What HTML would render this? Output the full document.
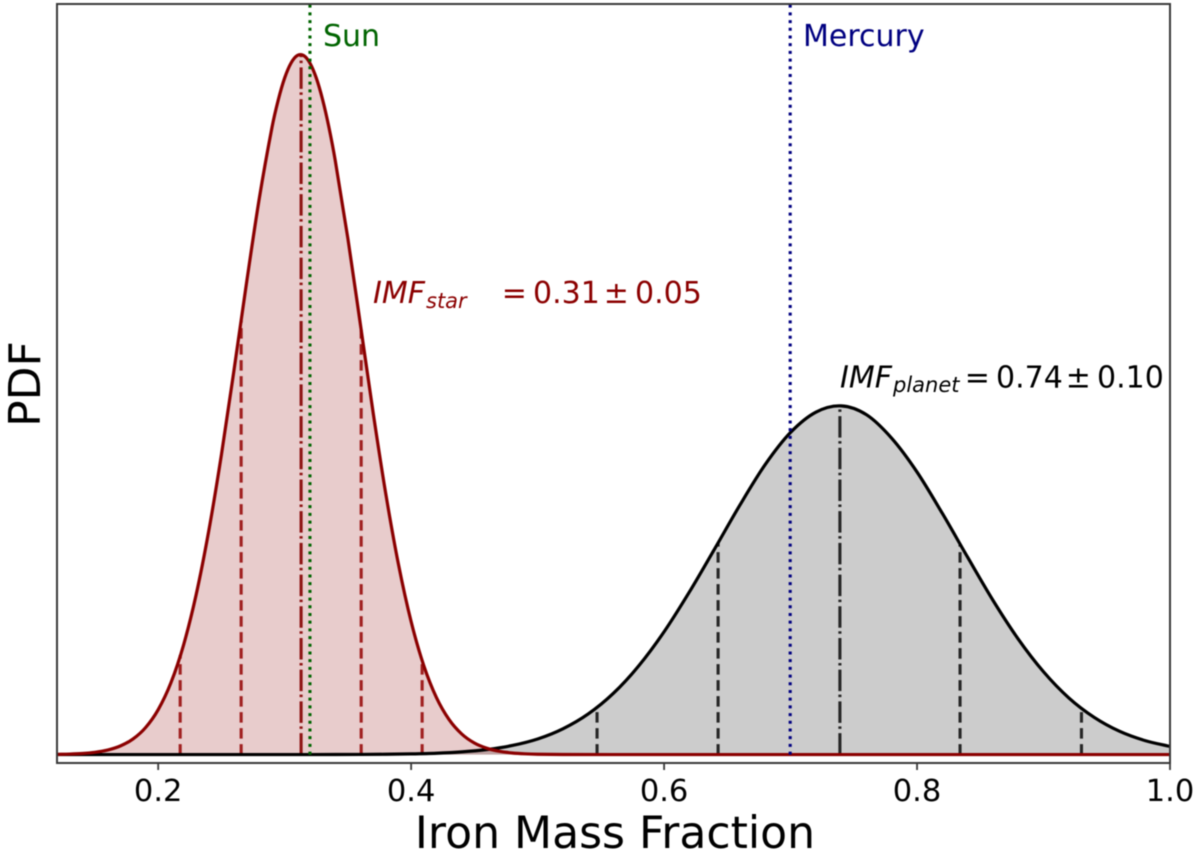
<!DOCTYPE html>
<html>
<head>
<meta charset="utf-8">
<title>Iron Mass Fraction PDF</title>
<style>
html,body{margin:0;padding:0;background:#fff;width:1200px;height:857px;overflow:hidden}
svg{display:block;font-family:"DejaVu Sans","Liberation Sans",sans-serif;filter:blur(0.4px)}
</style>
</head>
<body>
<svg id="chart" xmlns="http://www.w3.org/2000/svg" width="1200" height="857" viewBox="0 0 1200 857"></svg>
<script>
var starX = [0.12,0.13,0.14,0.15,0.16,0.17,0.18,0.19,0.20,0.21,0.22,0.23,0.24,0.25,0.26,0.27,0.28,0.29,0.295,0.30,0.305,0.31,0.315,0.32,0.325,0.33,0.335,0.34,0.35,0.36,0.37,0.38,0.39,0.40,0.41,0.42,0.43,0.44,0.45,0.46,0.47,0.48,0.49,0.50,0.52,0.60,0.80,1.00];
var starPdf = [0.0027,0.0062,0.0130,0.0270,0.0534,0.1013,0.1838,0.3196,0.5323,0.849,1.296,1.895,2.653,3.555,4.564,5.608,6.600,7.438,7.766,8.023,8.199,8.289,8.289,8.199,8.023,7.766,7.438,7.044,6.118,5.088,4.050,3.088,2.254,1.576,1.055,0.676,0.415,0.244,0.137,0.074,0.038,0.0188,0.0089,0.004,0.001,0,0,0];
var planetX = [0.12,0.30,0.34,0.36,0.38,0.40,0.42,0.44,0.46,0.48,0.50,0.52,0.54,0.56,0.58,0.60,0.62,0.64,0.66,0.68,0.70,0.72,0.74,0.76,0.78,0.80,0.82,0.84,0.86,0.88,0.90,0.92,0.94,0.96,0.98,1.00];
var planetPdf = [0,0.0001,0.0007,0.0016,0.0038,0.008,0.016,0.032,0.060,0.108,0.185,0.306,0.482,0.728,1.053,1.456,1.928,2.44,2.96,3.44,3.82,4.06,4.135,4.03,3.75,3.35,2.86,2.34,1.83,1.37,0.982,0.672,0.442,0.277,0.167,0.096];
var starQuantiles = [0.2174,0.2656,0.313,0.3605,0.4087];
var planetQuantiles = [0.547,0.6427,0.739,0.834,0.93];
var xTicks = [0.2,0.4,0.6,0.8,1.0];
var xTickLabels = ["0.2","0.4","0.6","0.8","1.0"];
var xDomain = [0.12,1.0];
var yDomain = [-0.1,8.9];
var sunValue = [0.32];
var mercuryValue = [0.6997];

var NS = "http://www.w3.org/2000/svg";
var svg = document.getElementById("chart");
var plot = {left:57, right:1170, top:4, bottom:763};
function sx(v){return plot.left+(v-xDomain[0])/(xDomain[1]-xDomain[0])*(plot.right-plot.left);}
function sy(v){return plot.bottom-(v-yDomain[0])/(yDomain[1]-yDomain[0])*(plot.bottom-plot.top);}
function make(tag,attrs,parent){
  var e=document.createElementNS(NS,tag);
  for(var k in attrs){e.setAttribute(k,attrs[k]);}
  (parent||svg).appendChild(e);
  return e;
}
function curve(xs,ys){
  var p=xs.map(function(x,i){return [sx(x),sy(ys[i])];});
  var d="M"+p[0][0].toFixed(2)+" "+p[0][1].toFixed(2);
  for(var i=0;i<p.length-1;i++){
    var a=p[Math.max(i-1,0)],b=p[i],c=p[i+1],e=p[Math.min(i+2,p.length-1)];
    var h=c[0]-b[0];
    var m1=(c[1]-a[1])/((c[0]-a[0])||1),m2=(e[1]-b[1])/((e[0]-b[0])||1);
    d+="C"+(b[0]+h/3).toFixed(2)+" "+(b[1]+m1*h/3).toFixed(2)+" "+(c[0]-h/3).toFixed(2)+" "+(c[1]-m2*h/3).toFixed(2)+" "+c[0].toFixed(2)+" "+c[1].toFixed(2);
  }
  return d;
}
function valueAt(xs,ys,x){
  for(var i=0;i<xs.length-1;i++){
    if(x>=xs[i]&&x<=xs[i+1]){return ys[i]+(ys[i+1]-ys[i])*(x-xs[i])/(xs[i+1]-xs[i]);}
  }
  return 0;
}
function areaPath(xs,ys){
  return curve(xs,ys)+"L"+sx(xs[xs.length-1]).toFixed(2)+" "+sy(0).toFixed(2)+"L"+sx(xs[0]).toFixed(2)+" "+sy(0).toFixed(2)+"Z";
}

var defs=make("defs",{});
var clip=make("clipPath",{id:"plot-clip"},defs);
make("rect",{x:plot.left,y:plot.top,width:plot.right-plot.left,height:plot.bottom-plot.top},clip);
var g=make("g",{"clip-path":"url(#plot-clip)"});



var planetArea=make("path",{d:areaPath(planetX,planetPdf),fill:"#000","fill-opacity":"0.2",stroke:"none"},g);


var starArea=make("path",{d:areaPath(starX,starPdf),fill:"#8b0000","fill-opacity":"0.2",stroke:"none"},g);



function quantileLines(qs,xs,ys,color,centralColor,prefix){
  qs.forEach(function(q,i){
    var central=i===2;
    var l=make("line",{x1:sx(q),x2:sx(q),y1:sy(0),y2:sy(valueAt(xs,ys,q)),stroke:central?centralColor:color,"stroke-width":"3.1","stroke-dasharray":central?"21.5 4.2 2.5 3.5":"10.5 5.5"},g);
    
    
  });
}
quantileLines(planetQuantiles,planetX,planetPdf,"#262626","#262626","planet");
quantileLines(starQuantiles,starX,starPdf,"#a02020","#8f1414","star");

var planetLine=make("path",{d:curve(planetX,planetPdf),fill:"none",stroke:"#000","stroke-width":"3.2"},g);


var starLine=make("path",{d:curve(starX,starPdf),fill:"none",stroke:"#8b0000","stroke-width":"3.2"},g);



var sunLine=make("line",{x1:sx(sunValue[0]),x2:sx(sunValue[0]),y1:sy(0),y2:plot.top,stroke:"#006400","stroke-width":"3.1","stroke-dasharray":"3 4.7"},g);


var mercuryLine=make("line",{x1:sx(mercuryValue[0]),x2:sx(mercuryValue[0]),y1:sy(0),y2:plot.top,stroke:"#000080","stroke-width":"3.1","stroke-dasharray":"3 4.7"},g);



var frame=make("rect",{x:plot.left,y:plot.top,width:plot.right-plot.left,height:plot.bottom-plot.top,fill:"none",stroke:"#3a3a3a","stroke-width":"2"});



xTicks.forEach(function(t,i){
  var m=make("line",{x1:sx(t),x2:sx(t),y1:plot.bottom,y2:plot.bottom+7,stroke:"#3a3a3a","stroke-width":"1.8"});
  
  
  var tl=make("text",{x:sx(t),y:801,"text-anchor":"middle","font-size":"30.5",fill:"#000"});
  tl.textContent=xTickLabels[i];
  
  
});

var xTitle=make("text",{x:615,y:848,"text-anchor":"middle","font-size":"44.1",fill:"#000"});
xTitle.textContent="Iron Mass Fraction";


var yTitle=make("text",{transform:"translate(40 384) rotate(-90)","text-anchor":"middle","font-size":"44",fill:"#000"});
yTitle.textContent="PDF";



var sunLabel=make("text",{x:323,y:46,"font-size":"30",fill:"#006400"});
sunLabel.textContent="Sun";


var mercuryLabel=make("text",{x:803,y:46,"font-size":"30",fill:"#000080"});
mercuryLabel.textContent="Mercury";



function annotation(x,y,sub,subW,subDy,parts,color,name){
  var a=make("text",{x:x,y:y,"font-size":"30",fill:color,"font-style":"italic"});
  a.textContent="IMF";
  
  
  var s=make("text",{x:x+subW,y:y+subDy,"font-size":"21",fill:color,"font-style":"italic"});
  s.textContent=sub;
  
  
  var r=make("text",{y:y,"font-size":"30",fill:color});
  
  
  parts.forEach(function(p){
    var t=make("tspan",{x:p[0]},r);
    t.textContent=p[1];
  });
}
annotation(373,303,"star",53,5,[[501.8,"="],[533,"0.31"],[603.8,"\u00b1"],[635,"0.05"]],"#8b0000","star-annotation");
annotation(840,387.5,"planet",53,4.5,[[964.8,"="],[996,"0.74"],[1065.8,"\u00b1"],[1097,"0.10"]],"#000","planet-annotation");
</script>
</body>
</html>
